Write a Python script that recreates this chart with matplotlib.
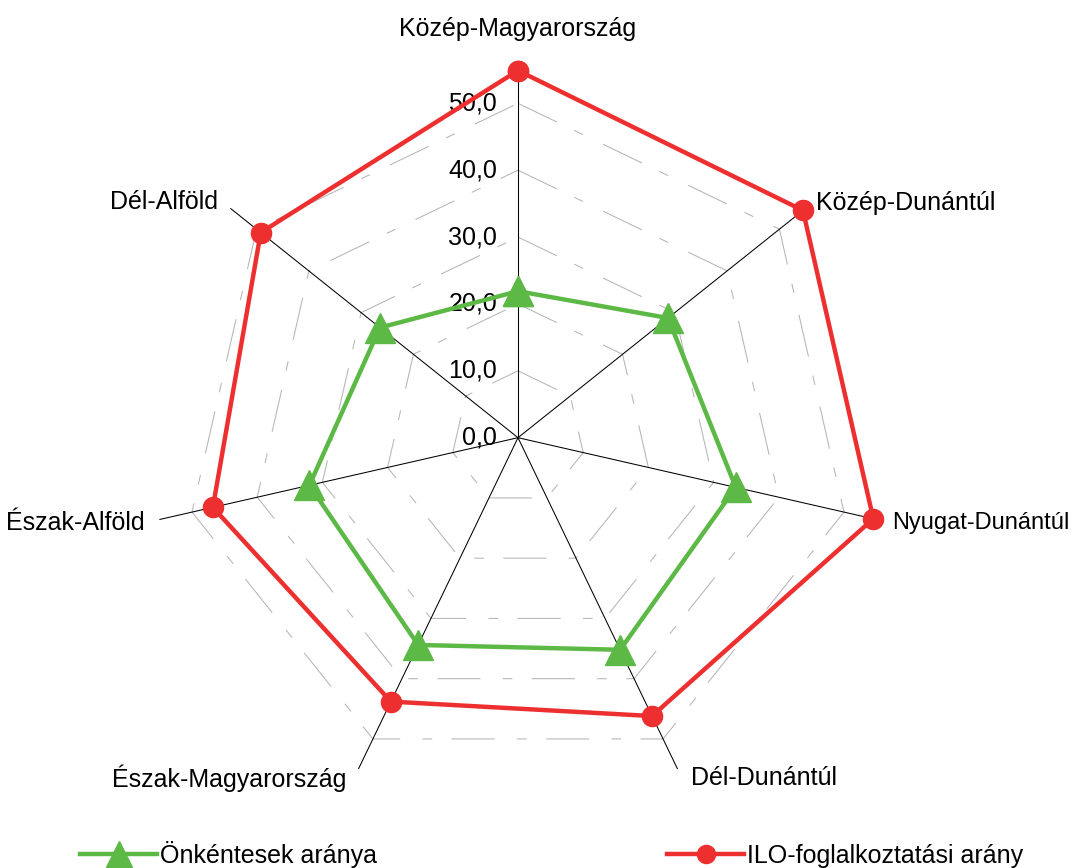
import numpy as np
import matplotlib
matplotlib.use("Agg")
import matplotlib.pyplot as plt

plt.rcParams["font.family"] = ["Liberation Sans", "DejaVu Sans"]
plt.rcParams["lines.scale_dashes"] = False

# data
regions = [
    "Közép-Magyarország",
    "Közép-Dunántúl",
    "Nyugat-Dunántúl",
    "Dél-Dunántúl",
    "Észak-Magyarország",
    "Észak-Alföld",
    "Dél-Alföld",
]
volunteers = [21.9, 28.7, 33.4, 35.2, 34.4, 32.0, 26.4]
ilo_rate = [54.9, 54.5, 54.5, 46.2, 43.8, 46.8, 49.2]
ring_levels = [10, 20, 30, 40, 50]
tick_levels = [0, 10, 20, 30, 40, 50]
rmax = 55

# label placement (offset in points, alignment, font size)
label_style = [
    ((0, 29.5), "center", 18),
    ((7.2, 3.6), "left", 18),
    ((11.5, -2.2), "left", 17),
    ((9.4, -6.5), "left", 18),
    ((-8.4, -6.5), "right", 18),
    ((-10.8, -2.2), "right", 18),
    ((-9.1, 4.3), "right", 18),
]

n = len(regions)
angles = np.arange(n) * 2 * np.pi / n
closed = np.append(angles, angles[0])

fig = plt.figure(figsize=(10.75, 8.68), dpi=100)
ax = fig.add_axes([0.1397, 0.0720, 0.6843, 0.8475], projection="polar")
ax.set_theta_zero_location("N")
ax.set_theta_direction(-1)
ax.set_ylim(0, rmax)
ax.grid(False)
ax.set_xticks([])
ax.set_yticks([])
ax.spines["polar"].set_visible(False)
ax.patch.set_alpha(0)

# polygon rings
for lev in ring_levels:
    ax.plot(closed, [lev] * (n + 1), color="#b5b5b5", lw=0.75,
            linestyle=(0, (31, 14, 7, 16)), zorder=1)

# spokes
for a in angles:
    ax.plot([a, a], [0, rmax], color="black", lw=0.75, zorder=2)

# radial tick labels
for lev in tick_levels:
    ax.annotate(f"{lev:.1f}".replace(".", ","), xy=(0, lev), xytext=(-15, 0),
                textcoords="offset points", ha="right", va="center",
                fontsize=18, zorder=3)

# category labels
for a, name, (off, ha, fs) in zip(angles, regions, label_style):
    ax.annotate(name, xy=(a, rmax), xytext=off, textcoords="offset points",
                ha=ha, va="center", fontsize=fs, annotation_clip=False)

green = "#5db946"
red = "#ee2f2f"
ax.plot(closed, volunteers + volunteers[:1], color=green, lw=3.2,
        marker="^", markersize=21, label="Önkéntesek aránya", zorder=4,
        clip_on=False)
ax.plot(closed, ilo_rate + ilo_rate[:1], color=red, lw=3.2,
        marker="o", markersize=14.5, label="ILO-foglalkoztatási arány", zorder=5,
        clip_on=False)

fig.legend(loc="center", bbox_to_anchor=(0.513, 0.016), ncol=2, frameon=False,
           fontsize=18, handlelength=3.1, handletextpad=0.1, columnspacing=11.6,
           borderpad=0, markerscale=0.9)

fig.savefig("out.png", dpi=100)
